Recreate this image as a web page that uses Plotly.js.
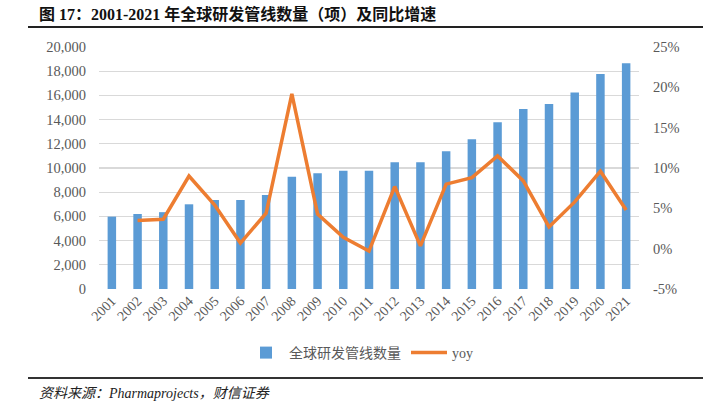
<!DOCTYPE html>
<html>
<head>
<meta charset="utf-8">
<script src="https://cdn.plot.ly/plotly-3.0.1.min.js"></script>
<style>
html,body{margin:0;padding:0;background:#fff;}
#chart{width:721px;height:411px;}
</style>
</head>
<body>
<div id="chart"></div>
<script>
var years = ["2001","2002","2003","2004","2005","2006","2007","2008","2009","2010","2011","2012","2013","2014","2015","2016","2017","2018","2019","2020","2021"];
var pipelineCount = [5980,6200,6350,7000,7360,7360,7770,9280,9560,9780,9780,10470,10470,11380,12370,13780,14880,15290,16250,17770,18650];
var yoyYears = ["2002","2003","2004","2005","2006","2007","2008","2009","2010","2011","2012","2013","2014","2015","2016","2017","2018","2019","2020","2021"];
var yoyPct = [3.5,3.65,9.0,5.4,0.7,4.4,19.2,4.3,1.4,-0.3,7.7,0.35,8.0,8.8,11.5,8.4,2.7,5.8,9.6,4.8];
var leftTicks = [0,2000,4000,6000,8000,10000,12000,14000,16000,18000,20000];
var leftTickLabels = ["0","2,000","4,000","6,000","8,000","10,000","12,000","14,000","16,000","18,000","20,000"];
var rightTicks = [-5,0,5,10,15,20,25];
var rightTickLabels = ["-5%","0%","5%","10%","15%","20%","25%"];

var titleText = "图 17：2001-2021 年全球研发管线数量（项）及同比增速";
var sourceText = "资料来源：Pharmaprojects，财信证券";

var serif = "'Liberation Serif','Times New Roman',serif";
var cjk = "'Liberation Serif','Noto Sans CJK SC',serif";
var grey = "#595959";

var L = 99, R = 639, T = 47, B = 289;
function px(x){ return (x - L) / (R - L); }
function py(y){ return (B - y) / (B - T); }

var traces = [
  {
    type: "bar",
    name: "全球研发管线数量",
    x: years,
    y: pipelineCount,
    width: 0.33,
    marker: {color: "#5B9BD5"},
    yaxis: "y"
  },
  {
    type: "scatter",
    mode: "lines",
    name: "yoy",
    x: yoyYears,
    y: yoyPct,
    line: {color: "#ED7D31", width: 3.5},
    yaxis: "y2"
  }
];

var layout = {
  width: 721,
  height: 411,
  margin: {l: L, r: 721 - R, t: T, b: 411 - B},
  paper_bgcolor: "#fff",
  plot_bgcolor: "#fff",
  showlegend: true,
  xaxis: {
    type: "category",
    tickangle: -45,
    tickfont: {family: serif, size: 14, color: grey},
    showgrid: false,
    showline: false,
    ticks: "",
    fixedrange: true
  },
  yaxis: {
    range: [0, 20000],
    tickmode: "array",
    tickvals: leftTicks,
    ticktext: leftTickLabels,
    tickfont: {family: serif, size: 14.5, color: grey},
    showgrid: true,
    gridcolor: "#d9d9d9",
    gridwidth: 1.3,
    zeroline: false,
    showline: false,
    ticks: "",
    ticklabelstandoff: 12
  },
  yaxis2: {
    overlaying: "y",
    side: "right",
    range: [-5, 25],
    tickmode: "array",
    tickvals: rightTicks,
    ticktext: rightTickLabels,
    tickfont: {family: serif, size: 14.5, color: grey},
    showgrid: false,
    zeroline: false,
    showline: false,
    ticks: "",
    ticklabelstandoff: 13
  },
  legend: {
    orientation: "h",
    xref: "container",
    yref: "container",
    x: 0.5,
    xanchor: "center",
    y: 1 - 353 / 411,
    yanchor: "middle",
    font: {family: cjk, size: 14, color: grey},
    itemwidth: 36,
    traceorder: "normal"
  },
  shapes: [
    {type: "line", xref: "paper", yref: "paper", x0: px(28), x1: px(703), y0: py(27), y1: py(27), line: {color: "#222", width: 2}},
    {type: "line", xref: "paper", yref: "paper", x0: px(28), x1: px(703), y0: py(378), y1: py(378), line: {color: "#333", width: 2}}
  ],
  annotations: [
    {
      xref: "paper", yref: "paper", x: px(37), y: py(14), xanchor: "left", yanchor: "middle",
      text: "<b>" + titleText + "</b>", showarrow: false,
      font: {family: "'Liberation Serif','Noto Sans CJK SC',serif", size: 16, color: "#111"}
    },
    {
      xref: "paper", yref: "paper", x: px(37), y: py(393), xanchor: "left", yanchor: "middle",
      text: "<i>" + sourceText + "</i>", showarrow: false,
      font: {family: "'Liberation Serif','Noto Sans CJK SC',serif", size: 14, color: "#222"}
    }
  ]
};

Plotly.newPlot("chart", traces, layout, {displayModeBar: false, staticPlot: true});
</script>
</body>
</html>
